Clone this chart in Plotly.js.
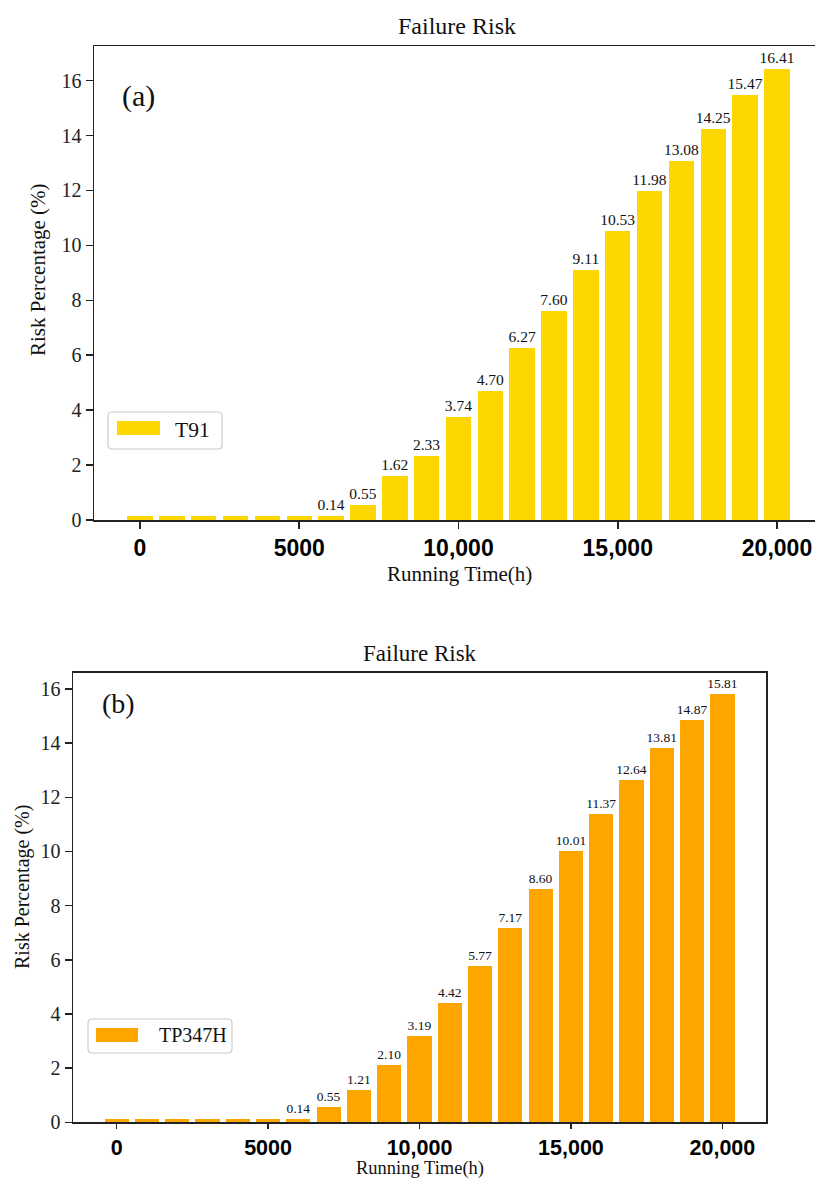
<!DOCTYPE html>
<html>
<head>
<meta charset="utf-8">
<script src="https://cdn.plot.ly/plotly-3.0.1.min.js"></script>
<style>html,body{margin:0;padding:0;background:#fff;}#chart{width:815px;height:1180px;}</style>
</head>
<body>
<div id="chart"></div>
<script>
// ---- data ----
const runningTime = [0,1000,2000,3000,4000,5000,6000,7000,8000,9000,10000,11000,12000,13000,14000,15000,16000,17000,18000,19000,20000];
const riskT91 =    [0.14,0.14,0.14,0.14,0.14,0.14,0.14,0.55,1.62,2.33,3.74,4.70,6.27,7.60,9.11,10.53,11.98,13.08,14.25,15.47,16.41];
const riskTP347H = [0.14,0.14,0.14,0.14,0.14,0.14,0.14,0.55,1.21,2.10,3.19,4.42,5.77,7.17,8.60,10.01,11.37,12.64,13.81,14.87,15.81];
const labelShown = [false,false,false,false,false,false,true,true,true,true,true,true,true,true,true,true,true,true,true,true,true];
const xTickVals = [0,5000,10000,15000,20000];
const xTickText = ['0','5000','10,000','15,000','20,000'];
const yTickVals = [0,2,4,6,8,10,12,14,16];
const seriesNames = ['T91','TP347H'];
const chartTitle = 'Failure Risk';
const xTitle = 'Running Time(h)';
const yTitle = 'Risk Percentage (%)';

// ---- helpers (layout only) ----
const W = 815, H = 1180;
const px = x => x / W;
const py = y => (H - y) / H;
const serif = 'Liberation Serif, Times New Roman, serif';
const sans = 'Liberation Sans, Arial, sans-serif';
function roundRect(x0, y0, x1, y1, r) {
  const X = v => px(v).toFixed(5), Y = v => py(v).toFixed(5);
  return `M${X(x0+r)},${Y(y0)} L${X(x1-r)},${Y(y0)} Q${X(x1)},${Y(y0)} ${X(x1)},${Y(y0+r)} ` +
         `L${X(x1)},${Y(y1-r)} Q${X(x1)},${Y(y1)} ${X(x1-r)},${Y(y1)} L${X(x0+r)},${Y(y1)} ` +
         `Q${X(x0)},${Y(y1)} ${X(x0)},${Y(y1-r)} L${X(x0)},${Y(y0+r)} Q${X(x0)},${Y(y0)} ${X(x0+r)},${Y(y0)} Z`;
}
const labelsFor = vals => vals.map((v, i) => labelShown[i] ? v.toFixed(2) : '');

const traces = [
  {
    type: 'bar', x: runningTime, y: riskT91, width: 800, name: seriesNames[0],
    marker: {color: '#FFD700', line: {width: 0}},
    text: labelsFor(riskT91), textposition: 'outside', constraintext: 'none', cliponaxis: false,
    textfont: {family: serif, size: 15.5, color: '#111'},
    xaxis: 'x', yaxis: 'y', showlegend: false, hoverinfo: 'x+y'
  },
  {
    type: 'bar', x: runningTime, y: riskTP347H, width: 800, name: seriesNames[1],
    marker: {color: '#FFA500', line: {width: 0}},
    text: labelsFor(riskTP347H), textposition: 'outside', constraintext: 'none', cliponaxis: false,
    textfont: {family: serif, size: 13.5, color: '#111'},
    xaxis: 'x2', yaxis: 'y2', showlegend: false, hoverinfo: 'x+y'
  }
];

const axCommon = {
  showline: true, linecolor: '#222', linewidth: 1.5, ticks: 'outside', ticklen: 7, tickwidth: 1.5,
  tickcolor: '#222', showgrid: false, zeroline: false, fixedrange: true
};

const layout = {
  width: W, height: H, margin: {l: 0, r: 0, t: 0, b: 0},
  paper_bgcolor: '#fff', plot_bgcolor: '#fff', showlegend: false, bargap: 0,
  xaxis: Object.assign({}, axCommon, {
    domain: [px(94), 1], range: [-1444, 21193], anchor: 'y', mirror: true,
    tickvals: xTickVals, ticktext: xTickText,
    tickfont: {family: sans, size: 23, color: '#000', weight: 'bold'}
  }),
  yaxis: Object.assign({}, axCommon, {
    domain: [py(520), py(46)], range: [0, 17.26], anchor: 'x', mirror: false,
    tickvals: yTickVals, tickfont: {family: serif, size: 20, color: '#222'}
  }),
  xaxis2: Object.assign({}, axCommon, {
    domain: [px(73), px(766)], range: [-1440, 21440], anchor: 'y2', mirror: true, ticklen: 5,
    tickvals: xTickVals, ticktext: xTickText,
    tickfont: {family: sans, size: 21.5, color: '#000', weight: 'bold'}
  }),
  yaxis2: Object.assign({}, axCommon, {
    domain: [py(1122.3), py(672.7)], range: [0, 16.6], anchor: 'x2', mirror: true,
    tickvals: yTickVals, tickfont: {family: serif, size: 20, color: '#222'}
  }),
  shapes: [
    {type: 'path', xref: 'paper', yref: 'paper', path: roundRect(108, 412, 222, 449, 4),
     fillcolor: 'rgba(255,255,255,0.85)', line: {color: '#cccccc', width: 1.2}},
    {type: 'rect', xref: 'paper', yref: 'paper', x0: px(117), x1: px(160), y0: py(435), y1: py(421),
     fillcolor: '#FFD700', line: {width: 0}},
    {type: 'path', xref: 'paper', yref: 'paper', path: roundRect(88, 1019, 232, 1053, 4),
     fillcolor: 'rgba(255,255,255,0.85)', line: {color: '#cccccc', width: 1.2}},
    {type: 'rect', xref: 'paper', yref: 'paper', x0: px(96), x1: px(138), y0: py(1042), y1: py(1028),
     fillcolor: '#FFA500', line: {width: 0}}
  ],
  annotations: [
    {text: chartTitle, xref: 'paper', yref: 'paper', x: px(457), y: py(26), xanchor: 'center', yanchor: 'middle',
     showarrow: false, font: {family: serif, size: 24, color: '#111'}},
    {text: chartTitle, xref: 'paper', yref: 'paper', x: px(420), y: py(653), xanchor: 'center', yanchor: 'middle',
     showarrow: false, font: {family: serif, size: 23, color: '#111'}},
    {text: '(a)', xref: 'paper', yref: 'paper', x: px(138), y: py(96), xanchor: 'center', yanchor: 'middle',
     showarrow: false, font: {family: serif, size: 30, color: '#111'}},
    {text: '(b)', xref: 'paper', yref: 'paper', x: px(118), y: py(704), xanchor: 'center', yanchor: 'middle',
     showarrow: false, font: {family: serif, size: 28, color: '#111'}},
    {text: xTitle, xref: 'paper', yref: 'paper', x: px(459), y: py(574), xanchor: 'center', yanchor: 'middle',
     showarrow: false, font: {family: serif, size: 21, color: '#111'}},
    {text: xTitle, xref: 'paper', yref: 'paper', x: px(420), y: py(1168), xanchor: 'center', yanchor: 'middle',
     showarrow: false, font: {family: serif, size: 18.5, color: '#111'}},
    {text: yTitle, xref: 'paper', yref: 'paper', x: px(38), y: py(270), xanchor: 'center', yanchor: 'middle',
     textangle: -90, showarrow: false, font: {family: serif, size: 21, color: '#111'}},
    {text: yTitle, xref: 'paper', yref: 'paper', x: px(22), y: py(887), xanchor: 'center', yanchor: 'middle',
     textangle: -90, showarrow: false, font: {family: serif, size: 20, color: '#111'}},
    {text: seriesNames[0], xref: 'paper', yref: 'paper', x: px(173), y: py(430), xanchor: 'left', yanchor: 'middle',
     showarrow: false, font: {family: serif, size: 21.5, color: '#111'}},
    {text: seriesNames[1], xref: 'paper', yref: 'paper', x: px(157), y: py(1035), xanchor: 'left', yanchor: 'middle',
     showarrow: false, font: {family: serif, size: 20, color: '#111'}}
  ]
};

Plotly.newPlot('chart', traces, layout, {displayModeBar: false, staticPlot: true});
</script>
</body>
</html>
